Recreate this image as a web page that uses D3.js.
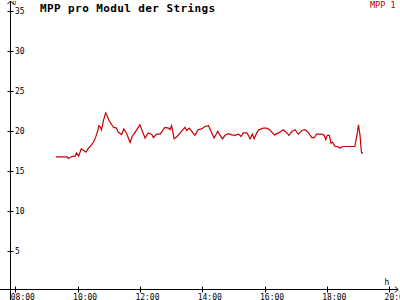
<!DOCTYPE html>
<html>
<head>
<meta charset="utf-8">
<script src="https://cdn.jsdelivr.net/npm/d3@7"></script>
<style>
  body { margin: 0; background: #fff; }
  svg { display: block; }
  text { font-family: "DejaVu Sans Mono", "Liberation Mono", monospace; }
</style>
</head>
<body>
<div id="chart"></div>
<script>
// time of day as "HH:MM" and MPP value
const times = ["09:18","09:40","09:42","09:49","09:55","09:58","10:02","10:07","10:12","10:16",
  "10:20","10:24","10:30","10:35","10:39","10:41","10:44","10:46","10:50","10:54",
  "10:56","11:00","11:09","11:15","11:18","11:25","11:29","11:34","11:41","11:45",
  "11:50","12:00","12:10","12:16","12:23","12:26","12:32","12:39","12:48","12:55",
  "12:58","13:01","13:06","13:14","13:20","13:27","13:30","13:35","13:46","13:52",
  "13:59","14:05","14:12","14:17","14:23","14:30","14:34","14:39","14:44","14:50",
  "14:57","15:03","15:10","15:15","15:19","15:26","15:29","15:32","15:37","15:40",
  "15:45","15:49","15:58","16:04","16:10","16:19","16:27","16:36","16:43","16:47",
  "16:53","16:59","17:05","17:12","17:18","17:24","17:31","17:36","17:40","17:50",
  "17:55","17:58","18:01","18:05","18:08","18:11","18:16","18:21","18:25","18:32",
  "18:54","18:58","19:01","19:04","19:06","19:07","19:10"]
const mpp1 = [16.7,16.7,16.5,16.75,16.8,17.2,16.8,17.7,17.5,17.3,
  17.7,18.0,18.5,19.2,20.0,20.6,20.4,20.1,21.3,22.2,
  22.0,21.3,20.4,20.3,19.8,19.5,20.2,19.7,18.5,19.25,
  19.7,20.7,19.05,19.7,19.5,19.1,19.55,19.55,20.4,20.3,
  20.1,20.6,18.95,19.4,19.9,20.4,20.0,20.3,19.4,20.1,
  20.2,20.5,20.6,19.9,19.05,19.9,19.45,18.95,19.4,19.6,
  19.45,19.4,19.55,19.25,19.7,19.7,19.4,18.95,19.55,18.95,
  19.7,20.1,20.3,20.3,20.1,19.45,19.7,20.1,19.7,19.4,
  19.9,20.1,19.55,20.0,20.1,19.8,19.1,19.1,19.55,19.55,
  19.4,18.85,19.4,19.4,18.4,18.55,18.0,18.0,17.8,18.0,
  18.0,19.4,20.7,19.4,17.8,17.2,17.2]
const xTickValues = ["08:00","10:00","12:00","14:00","16:00","18:00","20:00"]
const yTickValues = [5,10,15,20,25,30,35]

const title = "MPP pro Modul der Strings"
const seriesName = "MPP 1"
const lineColor = "#c40000"

const width = 400, height = 300

const toMin = s => { const p = s.split(":"); return +p[0] * 60 + +p[1] }

const data = times.map((t, i) => ({ t: toMin(t), v: mpp1[i] }))

const svg = d3.select("#chart").append("svg")
  .attr("width", width)
  .attr("height", height)

const x = d3.scaleLinear().domain([480, 1200]).range([15.3, 389.1])
const y = d3.scaleLinear().domain([0, 35]).range([290.5, 10.5])

const axisX = 10.5, axisY = 289.5

// axis lines
svg.append("line")
  .attr("x1", 0).attr("x2", 398)
  .attr("y1", axisY).attr("y2", axisY)
  .attr("stroke", "#000")
svg.append("line")
  .attr("x1", axisX).attr("x2", axisX)
  .attr("y1", 1).attr("y2", height)
  .attr("stroke", "#000")

// arrow heads
svg.append("path")
  .attr("d", `M${axisX - 3},4 L${axisX},1 L${axisX + 3},4`)
  .attr("fill", "none").attr("stroke", "#000")
svg.append("path")
  .attr("d", `M395,${axisY - 3} L398,${axisY} L395,${axisY + 3}`)
  .attr("fill", "none").attr("stroke", "#000")

// x ticks
const xg = svg.append("g")
xg.selectAll("line")
  .data(xTickValues)
  .join("line")
  .attr("x1", d => Math.round(x(toMin(d))) + 0.5)
  .attr("x2", d => Math.round(x(toMin(d))) + 0.5)
  .attr("y1", axisY - 3).attr("y2", axisY + 3)
  .attr("stroke", "#000")
xg.selectAll("text")
  .data(xTickValues)
  .join("text")
  .attr("x", d => x(toMin(d)) - 4.5)
  .attr("y", 299.5)
  .attr("font-size", 8)
  .attr("fill", "#000")
  .text(d => d)

// y ticks
const yg = svg.append("g")
yg.selectAll("line")
  .data(yTickValues)
  .join("line")
  .attr("x1", axisX - 3).attr("x2", axisX + 3)
  .attr("y1", d => Math.round(y(d)) + 0.5)
  .attr("y2", d => Math.round(y(d)) + 0.5)
  .attr("stroke", "#000")
yg.selectAll("text")
  .data(yTickValues)
  .join("text")
  .attr("x", 15)
  .attr("y", d => y(d) + 3)
  .attr("font-size", 8)
  .attr("fill", "#000")
  .text(d => d)

// axis unit labels
svg.append("text")
  .attr("x", 12.5).attr("y", 5)
  .attr("font-size", 6)
  .text("U")
svg.append("text")
  .attr("x", 384.5).attr("y", 284.5)
  .attr("font-size", 8)
  .text("h")

// title and legend
svg.append("text")
  .attr("x", 40).attr("y", 11.5)
  .attr("font-size", 11)
  .attr("font-weight", "bold")
  .attr("letter-spacing", 0.4)
  .text(title)
svg.append("text")
  .attr("x", 370).attr("y", 8)
  .attr("font-size", 8.5)
  .attr("fill", lineColor)
  .text(seriesName)

// series line
const line = d3.line()
  .x(d => x(d.t))
  .y(d => y(d.v))

svg.append("path")
  .datum(data)
  .attr("d", line)
  .attr("fill", "none")
  .attr("stroke", lineColor)
  .attr("stroke-width", 1.2)
</script>
</body>
</html>
